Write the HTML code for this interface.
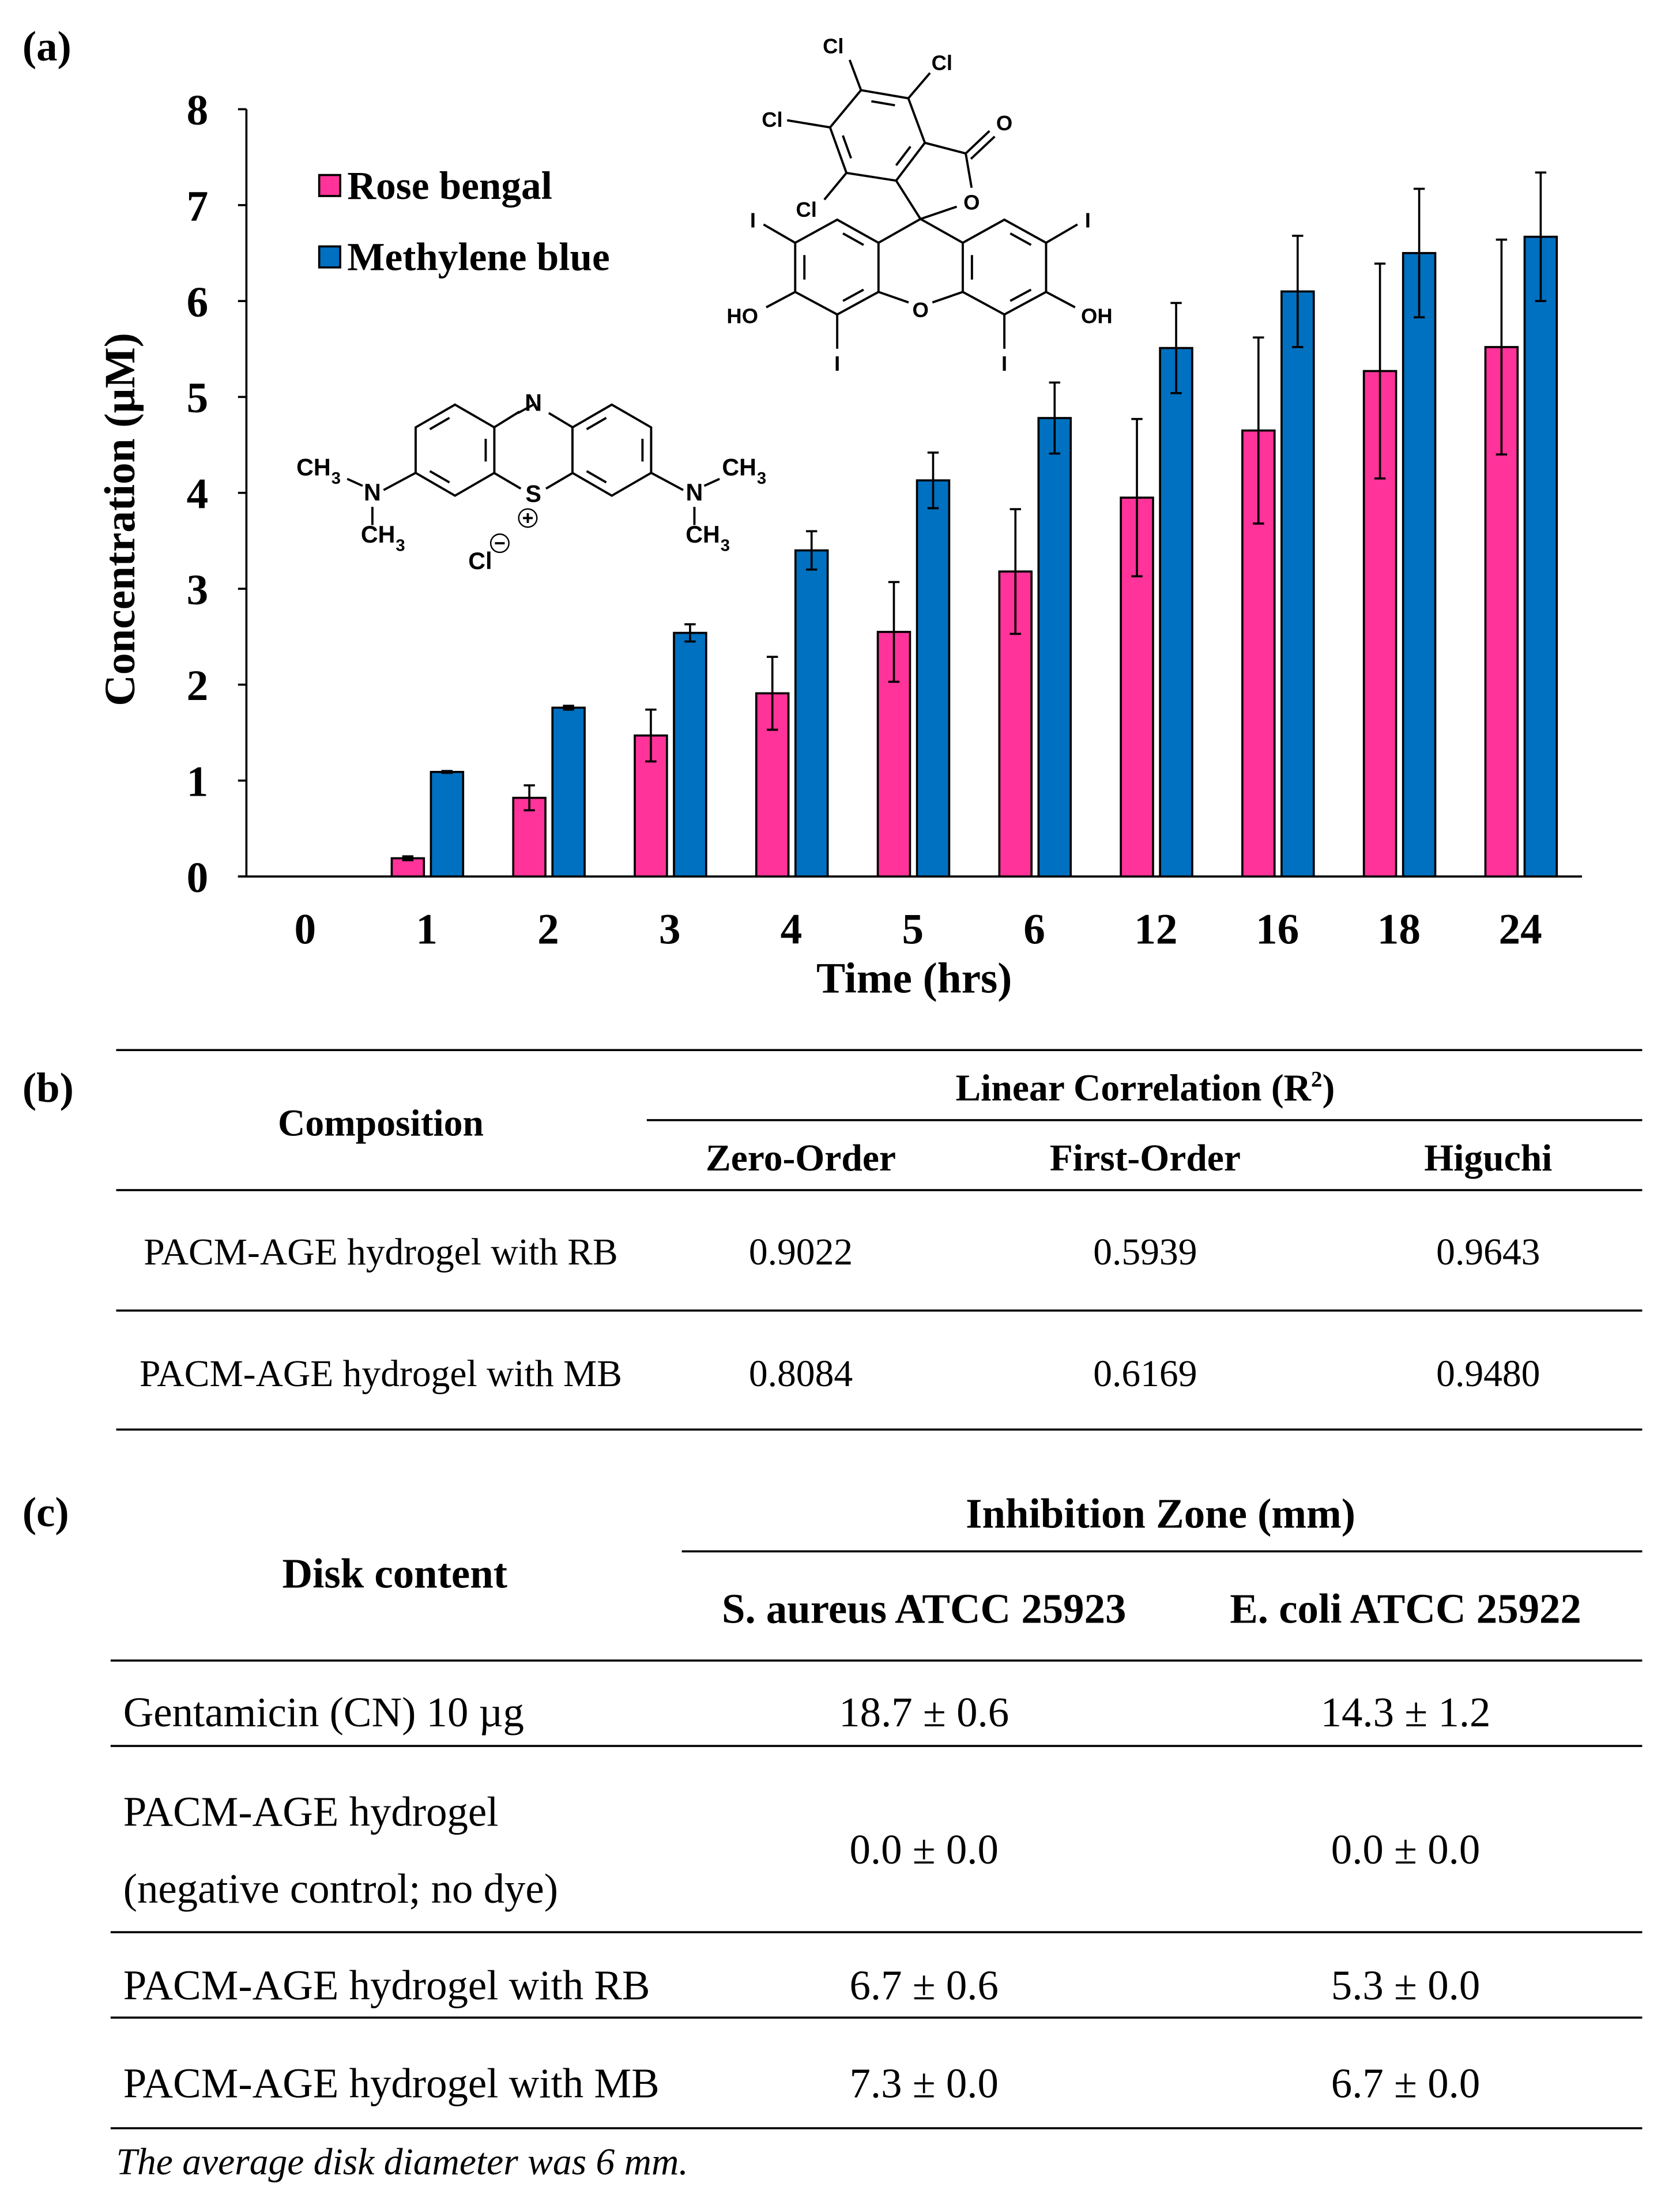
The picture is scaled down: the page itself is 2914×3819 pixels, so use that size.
<!DOCTYPE html>
<html><head><meta charset="utf-8"><style>
html,body{margin:0;padding:0;background:#fff;}
svg{display:block;}
.serif{font-family:"Liberation Serif","DejaVu Serif",serif;}
.sans{font-family:"Liberation Sans","DejaVu Sans",sans-serif;font-weight:bold;}
</style></head><body>
<svg id="fig" xmlns="http://www.w3.org/2000/svg" width="2914" height="3819" viewBox="0 0 1200 1572.7" preserveAspectRatio="none">
<rect x="0" y="0" width="1200" height="1572.7" fill="#fff"/>
<text class="serif" x="16" y="43" font-size="30" font-weight="bold">(a)</text>
<g id="chart"></g>
<g id="legend" class="serif" font-weight="bold" font-size="28.5">
 <g><rect x="228" y="125" width="15" height="15" fill="#ff3399" stroke="#000" stroke-width="1.5"/><text x="248" y="142">Rose bengal</text></g>
 <g><rect x="228" y="176" width="15" height="15" fill="#0070c0" stroke="#000" stroke-width="1.5"/><text x="248" y="193">Methylene blue</text></g>
</g>
<g id="rb" stroke="#000" stroke-width="1.6" fill="none"></g>
<g id="mb" stroke="#000" stroke-width="1.6" fill="none"></g>

<!-- Table b -->
<g class="serif" font-size="27" text-anchor="middle">
<text x="16" y="787" font-size="30" font-weight="bold" text-anchor="start">(b)</text>
<line x1="83" y1="750" x2="1173" y2="750" stroke="#000" stroke-width="1.5"/>
<text x="818" y="786" font-weight="bold">Linear Correlation (R<tspan font-size="16" dy="-10">2</tspan><tspan dy="10">)</tspan></text>
<line x1="462" y1="800" x2="1173" y2="800" stroke="#000" stroke-width="1.5"/>
<text x="272" y="811" font-weight="bold">Composition</text>
<text x="572" y="836" font-weight="bold">Zero-Order</text>
<text x="818" y="836" font-weight="bold">First-Order</text>
<text x="1063" y="836" font-weight="bold">Higuchi</text>
<line x1="83" y1="850" x2="1173" y2="850" stroke="#000" stroke-width="1.5"/>
<text x="272" y="903">PACM-AGE hydrogel with RB</text>
<text x="572" y="903">0.9022</text><text x="818" y="903">0.5939</text><text x="1063" y="903">0.9643</text>
<line x1="83" y1="936" x2="1173" y2="936" stroke="#000" stroke-width="1.5"/>
<text x="272" y="990">PACM-AGE hydrogel with MB</text>
<text x="572" y="990">0.8084</text><text x="818" y="990">0.6169</text><text x="1063" y="990">0.9480</text>
<line x1="83" y1="1021" x2="1173" y2="1021" stroke="#000" stroke-width="1.5"/>
</g>

<!-- Table c -->
<g class="serif" font-size="30" text-anchor="middle">
<text x="16" y="1090" font-size="30" font-weight="bold" text-anchor="start">(c)</text>
<text x="829" y="1091" font-weight="bold">Inhibition Zone (mm)</text>
<line x1="487" y1="1108" x2="1173" y2="1108" stroke="#000" stroke-width="1.5"/>
<text x="282" y="1134" font-weight="bold">Disk content</text>
<text x="660" y="1159" font-weight="bold">S. aureus ATCC 25923</text>
<text x="1004" y="1159" font-weight="bold">E. coli ATCC 25922</text>
<line x1="79" y1="1186" x2="1173" y2="1186" stroke="#000" stroke-width="1.5"/>
<text x="88" y="1233" text-anchor="start">Gentamicin (CN) 10 µg</text>
<text x="660" y="1233">18.7 ± 0.6</text><text x="1004" y="1233">14.3 ± 1.2</text>
<line x1="79" y1="1247" x2="1173" y2="1247" stroke="#000" stroke-width="1.5"/>
<text x="88" y="1304" text-anchor="start">PACM-AGE hydrogel</text>
<text x="88" y="1359" text-anchor="start">(negative control; no dye)</text>
<text x="660" y="1331">0.0 ± 0.0</text><text x="1004" y="1331">0.0 ± 0.0</text>
<line x1="79" y1="1380" x2="1173" y2="1380" stroke="#000" stroke-width="1.5"/>
<text x="88" y="1428" text-anchor="start">PACM-AGE hydrogel with RB</text>
<text x="660" y="1428">6.7 ± 0.6</text><text x="1004" y="1428">5.3 ± 0.0</text>
<line x1="79" y1="1441" x2="1173" y2="1441" stroke="#000" stroke-width="1.5"/>
<text x="88" y="1498" text-anchor="start">PACM-AGE hydrogel with MB</text>
<text x="660" y="1498">7.3 ± 0.0</text><text x="1004" y="1498">6.7 ± 0.0</text>
<line x1="79" y1="1520" x2="1173" y2="1520" stroke="#000" stroke-width="1.5"/>
<text x="83" y="1553" text-anchor="start" font-style="italic" font-size="27">The average disk diameter was 6 mm.</text>
</g>
</svg>
<script>
const categories=["0","1","2","3","4","5","6","12","16","18","24"];
const rbValues=[0,0.19,0.82,1.47,1.91,2.55,3.18,3.95,4.65,5.27,5.52];
const rbErrors=[0,0.02,0.13,0.27,0.38,0.52,0.65,0.82,0.97,1.12,1.12];
const mbValues=[0,1.09,1.76,2.54,3.40,4.13,4.78,5.51,6.10,6.50,6.67];
const mbErrors=[0,0.01,0.02,0.09,0.20,0.29,0.37,0.47,0.58,0.67,0.67];
const yTicks=[0,1,2,3,4,5,6,7,8];

const NS="http://www.w3.org/2000/svg";
function mk(tag,attrs,parent,txt){const e=document.createElementNS(NS,tag);for(const k in attrs)e.setAttribute(k,attrs[k]);if(txt!==undefined)e.textContent=txt;parent.appendChild(e);return e;}
const X0=176,Y0=626,YTOP=78,XEND=1130;
function yScale(v){return Y0-(v/8)*(Y0-YTOP);}
function xCenter(i){return 218+i*86.8;}
const chart=document.getElementById('chart');
let ax=mk('line',{x1:X0,y1:YTOP,x2:X0,y2:Y0,stroke:'#000','stroke-width':1.5},chart);


let axx=mk('line',{x1:X0-6,y1:Y0,x2:XEND,y2:Y0,stroke:'#000','stroke-width':1.5},chart);


yTicks.forEach(t=>{
  const y=yScale(t);
  mk('line',{x1:X0-6,y1:y,x2:X0,y2:y,stroke:'#000','stroke-width':1.5},chart);
  const tl=mk('text',{x:141,y:y+11,'font-size':31,'font-weight':'bold','text-anchor':'middle','class':'serif'},chart,String(t));
  
  
});
function bar(i,v,e,col,off,name){
  const c=xCenter(i);const x=c+off;const w=23;
  const y=yScale(v);
  const r=mk('rect',{x:x,y:y,width:w,height:Math.max(0,Y0-y),fill:col,stroke:'#000','stroke-width':1.5},chart);
  
  
  if(e>0){
    const m=x+w/2;const g=mk('g',{stroke:'#000','stroke-width':1.5},chart);
    
    
    mk('line',{x1:m,y1:yScale(v+e),x2:m,y2:yScale(v-e)},g);
    mk('line',{x1:m-4,y1:yScale(v+e),x2:m+4,y2:yScale(v+e)},g);
    mk('line',{x1:m-4,y1:yScale(v-e),x2:m+4,y2:yScale(v-e)},g);
  }
}
categories.forEach((c,i)=>{
  bar(i,rbValues[i],rbErrors[i],'#ff3399',-25,'bar-rose-bengal-'+c);
  bar(i,mbValues[i],mbErrors[i],'#0070c0',3,'bar-methylene-blue-'+c);
  const t=mk('text',{x:xCenter(i),y:674,'font-size':31,'font-weight':'bold','text-anchor':'middle','class':'serif'},chart,c);
  
  
});
let xt=mk('text',{x:653,y:709,'font-size':31,'font-weight':'bold','text-anchor':'middle','class':'serif'},chart,'Time (hrs)');


let yt=mk('text',{x:0,y:0,'font-size':31,'font-weight':'bold','text-anchor':'middle','class':'serif',transform:'translate(96,371) rotate(-90)'},chart,'Concentration (µM)');



function ln(g,a,b){mk('line',{x1:a[0],y1:a[1],x2:b[0],y2:b[1]},g);}
function ring(g,pts,dbl){
  mk('polygon',{points:pts.map(p=>p.join(',')).join(' ')},g);
  const cx=pts.reduce((s,p)=>s+p[0],0)/pts.length,cy=pts.reduce((s,p)=>s+p[1],0)/pts.length;
  dbl.forEach(k=>{const a=pts[k],b=pts[(k+1)%pts.length];
    const f=0.78;const s=0.18;
    const ia=[cx+(a[0]-cx)*f,cy+(a[1]-cy)*f],ib=[cx+(b[0]-cx)*f,cy+(b[1]-cy)*f];
    ln(g,[ia[0]+(ib[0]-ia[0])*s,ia[1]+(ib[1]-ia[1])*s],[ib[0]+(ia[0]-ib[0])*s,ib[1]+(ia[1]-ib[1])*s]);});
}
function lab(g,x,y,t,fs){return mk('text',{x:x,y:y+5.5,'font-size':fs||15,'text-anchor':'middle','class':'sans',fill:'#000',stroke:'none'},g,t);}
const rb=document.getElementById('rb');
const L=[[598,156.9],[627.5,173.4],[627.5,208.5],[598,224.6],[568,208.5],[568,173.4]];
const R=[[717.4,156.9],[747.2,173.4],[747.2,208.5],[717.4,224.6],[687.7,208.5],[687.7,173.4]];
ring(rb,L,[0,2,4]);ring(rb,R,[0,2,4]);
const sp=[657.5,156.4];
ln(rb,[627.5,173.4],sp);ln(rb,sp,[687.7,173.4]);
ln(rb,[627.5,208.5],[649,216]);ln(rb,[666,216],[687.7,208.5]);
const T=[[615,64.4],[648.8,70.2],[660.6,102],[640.1,129],[604.6,123.5],[592.9,91]];
ring(rb,T,[0,2,4]);
ln(rb,[660.6,102],[689.8,109.6]);ln(rb,[689.8,109.6],[694,134.1]);
ln(rb,[683.4,147.6],sp);ln(rb,[640.1,129],sp);
ln(rb,[689.8,109.6],[706.8,93.5]);ln(rb,[693.5,113.5],[710.5,97.5]);
ln(rb,[606.9,42.8],[615,64.4]);ln(rb,[664.3,52.1],[648.8,70.2]);
ln(rb,[562.2,85.9],[592.9,91]);ln(rb,[588.8,142.6],[604.6,123.5]);
ln(rb,[568,173.4],[545.4,160.3]);ln(rb,[747.2,173.4],[769.6,160.3]);
ln(rb,[568,208.5],[547.3,219.5]);ln(rb,[747.2,208.5],[767.9,219.5]);
ln(rb,[598,224.6],[598,249.1]);ln(rb,[717.4,224.6],[717.4,249.1]);
lab(rb,657.5,221,'O');lab(rb,694,144.3,'O');lab(rb,717.4,87.6,'O');
lab(rb,595.2,32.7,'Cl');lab(rb,672.8,44.5,'Cl');lab(rb,551.6,85.1,'Cl');lab(rb,576,149.3,'Cl');
lab(rb,537.8,156.9,'I');lab(rb,777,156.9,'I');lab(rb,598,259.3,'I');lab(rb,717.4,259.3,'I');
lab(rb,530.3,225.4,'HO');lab(rb,783.4,225.4,'OH');

const mb=document.getElementById('mb');
function hex(cx,cy){const r=32.5,h=28.1;return [[cx,cy-r],[cx+h,cy-r/2],[cx+h,cy+r/2],[cx,cy+r],[cx-h,cy+r/2],[cx-h,cy-r/2]];}
const cy=321.5;
ring(mb,hex(325,cy),[1,3,5]);ring(mb,hex(437,cy),[1,3,5]);
const C=hex(381,cy);
ln(mb,C[0],[370,C[0][1]+6]);ln(mb,[392,C[0][1]+6],C[1]);
ln(mb,C[5],[371,294]);
ln(mb,C[2],[390,349]);ln(mb,[372,349],C[4]);
lab(mb,381,288,'N',17);lab(mb,381,353,'S',17);
ln(mb,[296.9,337.7],[274,350]);ln(mb,[465.1,337.7],[488,350]);
ln(mb,[266,362],[266,375]);ln(mb,[496,362],[496,375]);
ln(mb,[248,342],[259,347]);ln(mb,[503,347],[514,342]);
lab(mb,266,352,'N',17);lab(mb,496,352,'N',17);
lab(mb,224,334,'CH',17);lab(mb,528,334,'CH',17);
lab(mb,270,382,'CH',17);lab(mb,502,382,'CH',17);
lab(mb,240,340,'3',12);lab(mb,544,340,'3',12);lab(mb,286,388,'3',12);lab(mb,518,388,'3',12);
lab(mb,343,401,'Cl',17);
mk('circle',{cx:357,cy:388,r:6.5,'stroke-width':1},mb);ln(mb,[353.5,388],[360.5,388]);
mk('circle',{cx:377,cy:370,r:6.5,'stroke-width':1},mb);ln(mb,[373.5,370],[380.5,370]);ln(mb,[377,366.5],[377,373.5]);
</script>
</body></html>
